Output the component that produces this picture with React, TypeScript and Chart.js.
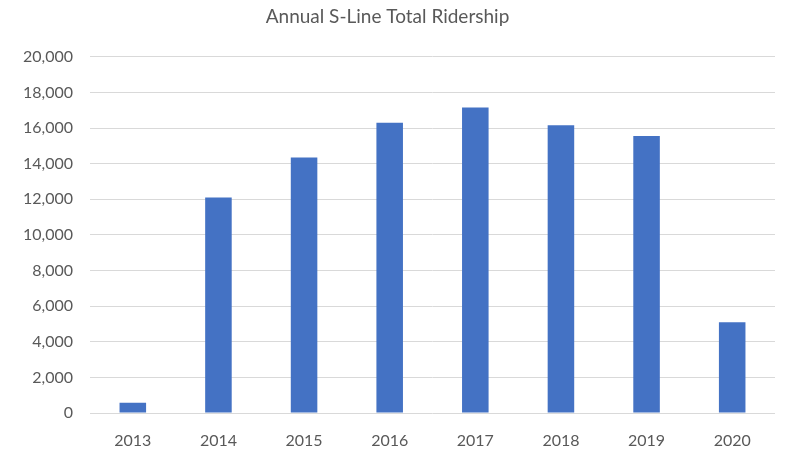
import React, { useEffect, useRef } from "react";
import { Chart, registerables } from "chart.js";

Chart.register(...registerables);

const years = ["2013", "2014", "2015", "2016", "2017", "2018", "2019", "2020"];
const ridership = [580, 12100, 14350, 16300, 17150, 16150, 15550, 5100];
const titleText = "Annual S-Line Total Ridership";

export default function App() {
  const ref = useRef<HTMLCanvasElement>(null);
  useEffect(() => {
    document.body.style.margin = "0";
    const ctx = ref.current!;
    const font = "Lato, 'Open Sans', sans-serif";
    const chart = new Chart(ctx, {
      type: "bar",
      data: {
        labels: years,
        datasets: [
          {
            data: ridership,
            backgroundColor: "#4472C4",
            barPercentage: 0.31,
            categoryPercentage: 1,
          },
        ],
      },
      options: {
        animation: false,
        responsive: false,
        maintainAspectRatio: false,
        layout: { padding: { left: 0, right: 12, top: 0, bottom: 0 } },
        plugins: {
          legend: { display: false },
          tooltip: { enabled: false },
          title: {
            display: true,
            text: titleText,
            color: "#595959",
            font: { family: font, size: 19, weight: "normal" },
            padding: { top: 5, bottom: 29 },
          },
        },
        scales: {
          x: {
            grid: { display: false },
            border: { display: false },
            ticks: {
              color: "#595959",
              font: { family: font, size: 16 },
              padding: 10,
            },
            afterFit: (s: any) => {
              s.height = 39;
            },
          },
          y: {
            min: 0,
            max: 20000,
            ticks: {
              stepSize: 2000,
              color: "#595959",
              font: { family: font, size: 16 },
              padding: 17,
            },
            grid: { color: "#d9d9d9", drawTicks: false },
            border: { display: false },
            afterFit: (s: any) => {
              s.width = 90;
            },
          },
        },
      },
    });
    return () => chart.destroy();
  }, []);
  return (
    <div style={{ width: 787, height: 452 }}>
      <canvas ref={ref} width={787} height={452} style={{ width: 787, height: 452 }} />
    </div>
  );
}
